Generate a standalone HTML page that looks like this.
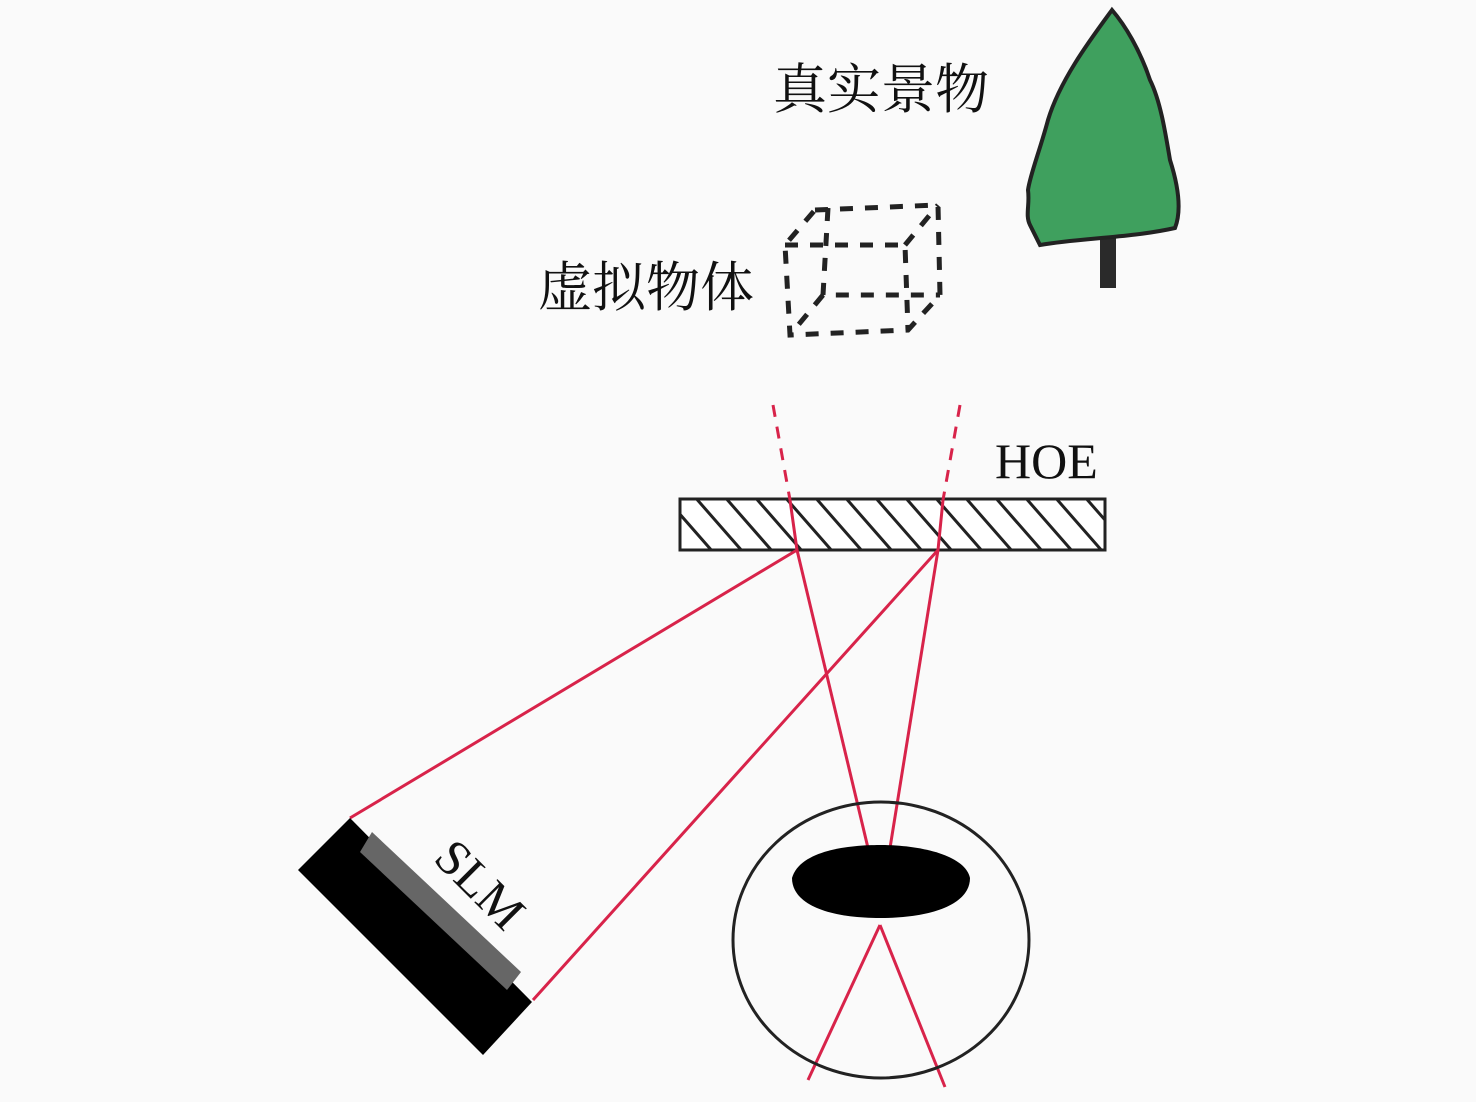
<!DOCTYPE html><html><head><meta charset="utf-8"><style>body{margin:0;background:#fafafa}svg{display:block}</style></head><body>
<svg width="1476" height="1102" viewBox="0 0 1476 1102" xmlns="http://www.w3.org/2000/svg">
<defs><clipPath id="hc"><rect x="680" y="499" width="425" height="51"/></clipPath></defs>
<rect width="1476" height="1102" fill="#fafafa"/>
<text x="773" y="108" font-family="Liberation Serif,'Noto Serif CJK SC',serif" font-size="54" fill="#111">真实景物</text>
<text x="538" y="306" font-family="Liberation Serif,'Noto Serif CJK SC',serif" font-size="54" fill="#111">虚拟物体</text>
<rect x="1100" y="230" width="16" height="58" fill="#2a2a2a"/>
<path d="M1112,10 C1090,40 1060,80 1048,120 C1040,150 1030,175 1028,190 C1030,205 1025,215 1030,225 L1040,245 C1080,238 1130,238 1175,228 C1182,210 1178,185 1170,160 C1165,130 1160,100 1150,80 C1140,50 1125,25 1112,10 Z" fill="#3fa05e" stroke="#222" stroke-width="4"/>
<g fill="none" stroke="#222" stroke-width="5" stroke-dasharray="13,12">
<path d="M815,210 L938,205 L940,295 L908,330 L790,335 L785,245 Z"/>
<path d="M785,245 L905,245 L908,330"/><path d="M905,245 L938,205"/>
<path d="M828,208 L823,295 L940,295"/><path d="M823,295 L790,335"/>
</g>
<text x="995" y="478" font-family="Liberation Serif,serif" font-size="50" fill="#111">HOE</text>
<rect x="680" y="499" width="425" height="51" fill="#fff" stroke="#222" stroke-width="3"/>
<g clip-path="url(#hc)" stroke="#222" stroke-width="3">
<path d="M650,480 l70,80 M680,480 l70,80 M710,480 l70,80 M740,480 l70,80 M770,480 l70,80 M800,480 l70,80 M830,480 l70,80 M860,480 l70,80 M890,480 l70,80 M920,480 l70,80 M950,480 l70,80 M980,480 l70,80 M1010,480 l70,80 M1040,480 l70,80 M1070,480 l70,80"/>
</g>
<g stroke="#d8234a" stroke-width="3" fill="none">
<path d="M773,405 L790,500" stroke-dasharray="12,10"/><path d="M960,405 L943,500" stroke-dasharray="12,10"/>
<path d="M790,500 L797,550 L350,818"/><path d="M943,500 L938,550 L533,1000"/>
<path d="M797,550 L868,848"/><path d="M938,550 L890,848"/>
<path d="M880,925 L808,1080"/><path d="M880,925 L945,1087"/>
</g>
<ellipse cx="881" cy="940" rx="148" ry="138" fill="none" stroke="#222" stroke-width="3"/>
<path d="M792,878 C800,850 850,845 880,845 C920,845 965,855 970,878 C970,905 930,918 880,918 C830,918 792,905 792,878 Z" fill="#000"/>
<polygon points="350,818 298,870 483,1055 532,1002" fill="#000"/>
<polygon points="372,832 360,852 507,990 521,972" fill="#666"/>
<text transform="translate(432,860) rotate(45)" font-family="Liberation Serif,serif" font-size="50" fill="#111">SLM</text>
</svg></body></html>
